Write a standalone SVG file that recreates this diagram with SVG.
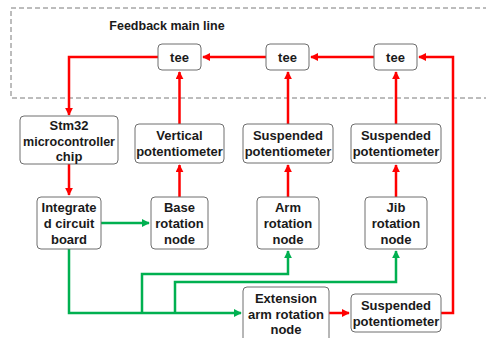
<svg xmlns="http://www.w3.org/2000/svg" width="486" height="338" viewBox="0 0 486 338">
<defs>
<style>
.box{fill:#fff;stroke:#6e6e6e;stroke-width:1}
.t{font-family:"Liberation Sans",Arial,sans-serif;font-weight:bold;font-size:13px;fill:#1a1a1a;text-anchor:middle}
.r{fill:none;stroke:#ff0000;stroke-width:2.5}
.g{fill:none;stroke:#00b050;stroke-width:2.5}
</style>
<marker id="ar" viewBox="0 0 10 10" refX="9" refY="5" markerWidth="3.2" markerHeight="3.2" orient="auto" markerUnits="strokeWidth"><path d="M0,0 L10,5 L0,10 z" fill="#ff0000"/></marker>
<marker id="ag" viewBox="0 0 10 10" refX="9" refY="5" markerWidth="3.2" markerHeight="3.2" orient="auto" markerUnits="strokeWidth"><path d="M0,0 L10,5 L0,10 z" fill="#00b050"/></marker>
</defs>
<rect x="11" y="8" width="490" height="90" fill="none" stroke="#7a7a7a" stroke-width="1" stroke-dasharray="5,3"/>
<text class="t" x="167" y="30" style="font-size:12.5px">Feedback main line</text>
<g id="connectors">
<path class="r" d="M158,57 H69 V115" marker-end="url(#ar)"/>
<path class="r" d="M266,57 H203" marker-end="url(#ar)"/>
<path class="r" d="M374,57 H311" marker-end="url(#ar)"/>
<path class="r" d="M441,313 H453 V57 H419" marker-end="url(#ar)"/>
<path class="r" d="M179.5,124 V72" marker-end="url(#ar)"/>
<path class="r" d="M288,124 V72" marker-end="url(#ar)"/>
<path class="r" d="M396,124 V72" marker-end="url(#ar)"/>
<path class="r" d="M179.5,197 V165" marker-end="url(#ar)"/>
<path class="r" d="M288,197 V165" marker-end="url(#ar)"/>
<path class="r" d="M396,197 V165" marker-end="url(#ar)"/>
<path class="r" d="M69,164 V195" marker-end="url(#ar)"/>
<path class="r" d="M329,313 H349" marker-end="url(#ar)"/>
<path class="g" d="M101,223 H149" marker-end="url(#ag)"/>
<path class="g" d="M69,249 V313 H241" marker-end="url(#ag)"/>
<path class="g" d="M142,313 V274 H288 V251" marker-end="url(#ag)"/>
<path class="g" d="M175,313 V282 H396 V251" marker-end="url(#ag)"/>
</g>
<g id="tee1"><rect class="box" x="158" y="44" width="43" height="26" rx="4"/><text class="t" x="179.5" y="61.5">tee</text></g>
<g id="tee2"><rect class="box" x="266" y="44" width="43" height="26" rx="4"/><text class="t" x="287.5" y="61.5">tee</text></g>
<g id="tee3"><rect class="box" x="374" y="44" width="43" height="26" rx="4"/><text class="t" x="395.5" y="61.5">tee</text></g>
<g id="stm32"><rect class="box" x="20" y="116" width="98" height="48" rx="4"/><text class="t" x="69" y="129.5">Stm32</text><text class="t" x="69" y="145.5" textLength="92" lengthAdjust="spacingAndGlyphs">microcontroller</text><text class="t" x="69" y="161">chip</text></g>
<g id="vpot"><rect class="box" x="135" y="124" width="89" height="39" rx="4"/><text class="t" x="179.5" y="140">Vertical</text><text class="t" x="179.5" y="156">potentiometer</text></g>
<g id="spot1"><rect class="box" x="243" y="124" width="90" height="39" rx="4"/><text class="t" x="288" y="140">Suspended</text><text class="t" x="288" y="156">potentiometer</text></g>
<g id="spot2"><rect class="box" x="351" y="124" width="90" height="39" rx="4"/><text class="t" x="396" y="140">Suspended</text><text class="t" x="396" y="156">potentiometer</text></g>
<g id="icb"><rect class="box" x="37" y="197" width="64" height="52" rx="4"/><text class="t" x="69" y="211.5">Integrate</text><text class="t" x="69" y="227.5">d circuit</text><text class="t" x="69" y="243.5">board</text></g>
<g id="base"><rect class="box" x="151" y="197" width="57" height="52" rx="4"/><text class="t" x="179.5" y="211.5">Base</text><text class="t" x="179.5" y="227.5">rotation</text><text class="t" x="179.5" y="243.5">node</text></g>
<g id="arm"><rect class="box" x="257" y="197" width="62" height="52" rx="4"/><text class="t" x="288" y="211.5">Arm</text><text class="t" x="288" y="227.5">rotation</text><text class="t" x="288" y="243.5">node</text></g>
<g id="jib"><rect class="box" x="365" y="197" width="62" height="52" rx="4"/><text class="t" x="396" y="211.5">Jib</text><text class="t" x="396" y="227.5">rotation</text><text class="t" x="396" y="243.5">node</text></g>
<g id="ext"><rect class="box" x="243" y="287" width="86" height="60" rx="4"/><text class="t" x="286" y="302.5">Extension</text><text class="t" x="286" y="318.5">arm rotation</text><text class="t" x="286" y="333.5">node</text></g>
<g id="spot3"><rect class="box" x="351" y="294" width="90" height="38" rx="4"/><text class="t" x="396" y="310">Suspended</text><text class="t" x="396" y="326">potentiometer</text></g>
</svg>
